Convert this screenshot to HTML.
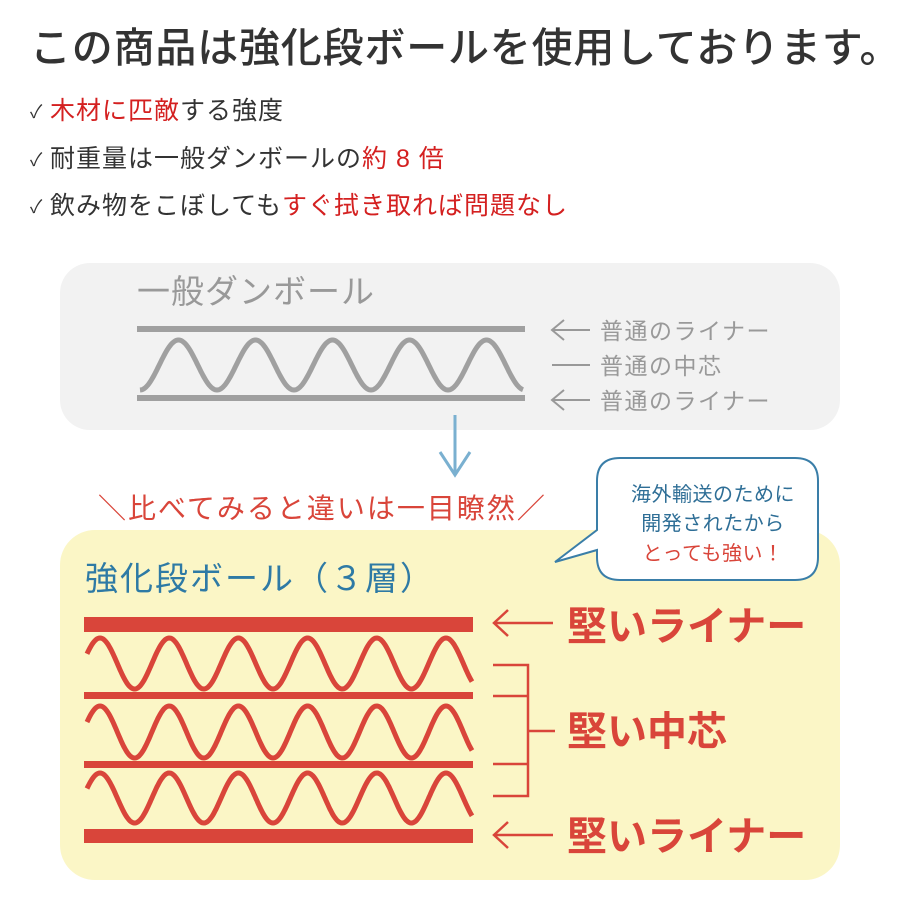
<!DOCTYPE html>
<html><head><meta charset="utf-8"><style>
html,body{margin:0;padding:0;background:#fff;}
svg{display:block;}
text{font-family:"Liberation Sans","Noto Sans CJK JP",sans-serif;}
</style></head><body>
<svg id="s" width="900" height="900" viewBox="0 0 900 900" xmlns="http://www.w3.org/2000/svg">
<text x="30" y="62" font-size="41" fill="#333" font-weight="500" letter-spacing="0.8">この商品は強化段ボールを使用しております。</text>
<text x="30" y="118" font-size="18" fill="#333">✓</text>
<text x="50" y="119" font-size="25" fill="#333" letter-spacing="1"><tspan fill="#d42020">木材に匹敵</tspan>する強度</text>
<text x="30" y="166" font-size="18" fill="#333">✓</text>
<text x="50" y="167" font-size="25" fill="#333" letter-spacing="1">耐重量は一般ダンボールの<tspan fill="#d42020">約 8 倍</tspan></text>
<text x="30" y="213" font-size="18" fill="#333">✓</text>
<text x="50" y="214" font-size="25" fill="#333" letter-spacing="1">飲み物をこぼしても<tspan fill="#d42020">すぐ拭き取れば問題なし</tspan></text>

<rect x="60" y="263" width="780" height="167" rx="30" fill="#f2f2f2"/>
<text x="137" y="303" font-size="33" fill="#999" letter-spacing="1">一般ダンボール</text>
<rect x="137" y="326" width="388" height="6" fill="#a0a0a0"/>
<rect x="137" y="395" width="388" height="6" fill="#a0a0a0"/>
<path id="gw" fill="none" stroke="#a0a0a0" stroke-width="5"/>
<g stroke="#999" stroke-width="2" fill="none">
<path d="M590 330 H552 M564 320 L552 330 L564 340"/>
<path d="M590 365 H552"/>
<path d="M590 400 H552 M564 390 L552 400 L564 410"/>
</g>
<text x="600" y="339" font-size="23" fill="#999" letter-spacing="1.5">普通のライナー</text>
<text x="600" y="374" font-size="23" fill="#999" letter-spacing="1.5">普通の中芯</text>
<text x="600" y="409" font-size="23" fill="#999" letter-spacing="1.5">普通のライナー</text>

<g stroke="#7ab0d0" stroke-width="3" fill="none"><path d="M455 415 V475 M440 452 L455 475 L470 452"/></g>

<rect x="60" y="530" width="780" height="350" rx="35" fill="#fbf6c6"/>
<text x="98" y="518" font-size="28" fill="#d9453a" letter-spacing="2">＼比べてみると違いは一目瞭然／</text>

<path d="M620 458 H795 Q818 458 818 481 V557 Q818 580 795 580 H620 Q597 580 597 557 V550 L555 562 L597 530 V481 Q597 458 620 458 Z" fill="#fff" stroke="#3a7ea8" stroke-width="2"/>
<text x="713" y="501" font-size="20" fill="#2e6e96" text-anchor="middle" letter-spacing="0.5">海外輸送のために</text>
<text x="713" y="530" font-size="20" fill="#2e6e96" text-anchor="middle" letter-spacing="0.5">開発されたから</text>
<text x="713" y="560" font-size="20" fill="#d9453a" text-anchor="middle" letter-spacing="0.5">とっても強い！</text>

<text x="85" y="590" font-size="33" fill="#2e7aa5" letter-spacing="2">強化段ボール（３層）</text>
<g fill="#d9453a">
<rect x="84" y="617" width="389" height="15"/>
<rect x="84" y="692" width="389" height="7"/>
<rect x="84" y="761" width="389" height="7"/>
<rect x="84" y="829" width="389" height="14"/>
</g>
<path id="w1" fill="none" stroke="#d9453a" stroke-width="5"/>
<path id="w2" fill="none" stroke="#d9453a" stroke-width="5"/>
<path id="w3" fill="none" stroke="#d9453a" stroke-width="5"/>
<g stroke="#d9453a" stroke-width="2.5" fill="none">
<path d="M553 623 H494 M508 610 L494 623 L508 636"/>
<path d="M553 835 H494 M508 822 L494 835 L508 848"/>
<path d="M493 665 H528 V796 H493 M493 696 H528 M493 764 H528 M528 731 H555"/>
</g>
<text x="567" y="640" font-size="40" font-weight="bold" fill="#d9453a">堅いライナー</text>
<text x="567" y="745" font-size="40" font-weight="bold" fill="#d9453a">堅い中芯</text>
<text x="567" y="850" font-size="40" font-weight="bold" fill="#d9453a">堅いライナー</text>
</svg>
<script>
function wave(id,x0,x1,peakX,period,top,bot){
  var mid=(top+bot)/2,A=(bot-top)/2,d="";
  for(var x=x0;x<=x1;x+=1){
    var y=mid-A*Math.cos(2*Math.PI*(x-peakX)/period);
    d+=(x==x0?"M":"L")+x.toFixed(1)+" "+y.toFixed(1)+" ";
  }
  document.getElementById(id).setAttribute("d",d);
}
wave("gw",140,523,178.5,77,340,390);
wave("w1",87,472,100,69.2,638,689);
wave("w2",87,472,100,69.2,706,758);
wave("w3",87,472,100,69.2,773,823);
</script>
</body></html>
